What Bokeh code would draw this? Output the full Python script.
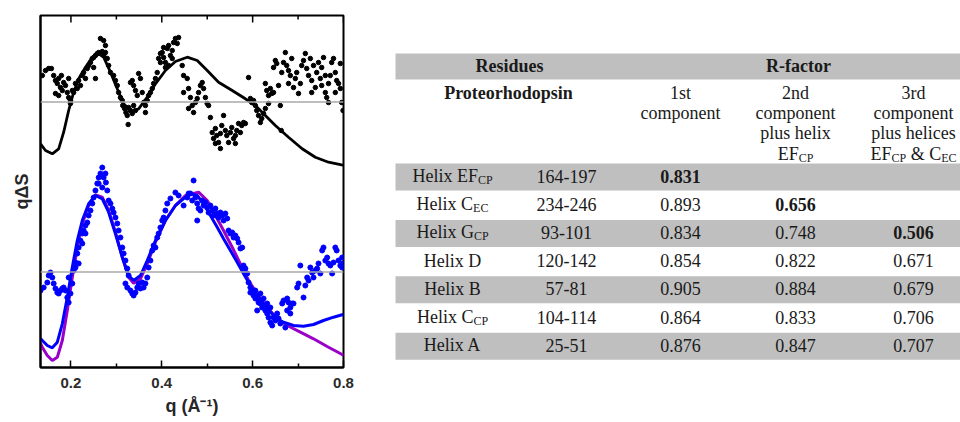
import re
from bokeh.plotting import figure
from bokeh.layouts import row
from bokeh.models import Range1d, FixedTicker, LinearAxis, Span, ColumnDataSource
from bokeh.core.properties import value
from bokeh.embed import file_html
from bokeh.resources import INLINE

# ---------------- plot data (q in 1/Angstrom, q*dS in arbitrary units, curves vertically offset) ----------
top_baseline = 265.5
bottom_baseline = 95.5

top_fit_q = [0.133, 0.144, 0.159, 0.173, 0.184, 0.195, 0.206, 0.217, 0.232, 0.247, 0.261, 0.272, 0.287,
             0.302, 0.316, 0.335, 0.349, 0.368, 0.386, 0.408, 0.430, 0.456, 0.478, 0.500, 0.525, 0.555,
             0.584, 0.606, 0.628, 0.650, 0.679, 0.709, 0.738, 0.767, 0.796, 0.800]
top_fit_y = [223.7, 217.0, 213.7, 218.7, 235.3, 257.0, 275.3, 288.7, 300.3, 310.3, 313.7, 310.3, 295.3,
             278.7, 263.7, 255.3, 258.7, 270.3, 283.7, 297.0, 306.0, 310.3, 307.0, 297.0, 285.3, 277.0,
             268.7, 262.0, 252.0, 242.0, 230.3, 218.7, 210.3, 205.3, 202.7, 202.4]

blue_fit_q = [0.133, 0.137, 0.148, 0.159, 0.170, 0.181, 0.192, 0.203, 0.214, 0.225, 0.239, 0.254, 0.269,
              0.283, 0.298, 0.313, 0.327, 0.338, 0.353, 0.368, 0.386, 0.408, 0.430, 0.452, 0.463, 0.478,
              0.492, 0.507, 0.522, 0.536, 0.551, 0.566, 0.580, 0.595, 0.610, 0.624, 0.639, 0.654, 0.668,
              0.690, 0.712, 0.734, 0.756, 0.778, 0.797, 0.800]
blue_fit_y = [29.0, 27.0, 22.0, 19.7, 25.3, 43.7, 70.3, 100.3, 127.0, 147.0, 163.7, 172.0, 168.7,
              155.3, 133.7, 110.3, 92.0, 87.0, 92.0, 107.0, 127.0, 147.0, 162.0, 170.3, 173.7, 172.0,
              163.7, 152.0, 140.3, 128.7, 117.0, 105.3, 93.7, 82.0, 72.0, 63.7, 55.3, 48.7, 45.3,
              42.0, 41.3, 43.0, 47.0, 50.3, 52.7, 53.0]

magenta_fit_q = [0.133, 0.137, 0.148, 0.159, 0.170, 0.181, 0.192, 0.203, 0.214, 0.225, 0.239, 0.254,
                 0.269, 0.283, 0.298, 0.313, 0.327, 0.338, 0.353, 0.368, 0.386, 0.408, 0.430, 0.452,
                 0.481, 0.500, 0.518, 0.536, 0.555, 0.573, 0.591, 0.610, 0.632, 0.654, 0.676, 0.705,
                 0.734, 0.764, 0.797, 0.800]
magenta_fit_y = [24.0, 20.3, 12.0, 7.0, 10.3, 27.0, 57.0, 90.3, 120.3, 143.7, 162.0, 172.7,
                 170.3, 157.0, 135.3, 110.3, 90.3, 84.3, 88.7, 103.7, 125.3, 147.0, 162.0, 172.0,
                 175.3, 167.0, 152.0, 137.0, 120.3, 103.7, 87.0, 73.7, 60.3, 48.7, 42.0, 35.3,
                 28.7, 21.0, 13.0, 12.0]

top_points = [
    (0.137, 292), (0.144, 297), (0.151, 299), (0.157, 299), (0.162, 292), (0.166, 287), (0.170, 284),
    (0.173, 289), (0.177, 280), (0.181, 277), (0.184, 285), (0.188, 282), (0.192, 275), (0.195, 270),
    (0.199, 267), (0.203, 277), (0.166, 274), (0.173, 272), (0.179, 292), (0.195, 289), (0.199, 264),
    (0.206, 275), (0.210, 284), (0.214, 279), (0.217, 287), (0.221, 282),
    (0.225, 292), (0.228, 295), (0.232, 289), (0.236, 299), (0.239, 302), (0.243, 305), (0.247, 309),
    (0.250, 310), (0.254, 312), (0.258, 314), (0.261, 315), (0.265, 314), (0.269, 316), (0.272, 312),
    (0.250, 300), (0.254, 289), (0.265, 329), (0.272, 327), (0.276, 322), (0.276, 315),
    (0.280, 309), (0.283, 302), (0.287, 295), (0.294, 292), (0.298, 287), (0.302, 282), (0.305, 275),
    (0.309, 270), (0.313, 267), (0.314, 262), (0.318, 259), (0.321, 255), (0.324, 252), (0.327, 260),
    (0.331, 257), (0.335, 254), (0.326, 243), (0.338, 262), (0.342, 257),
    (0.331, 285), (0.335, 287), (0.338, 282), (0.342, 277), (0.346, 272), (0.349, 294), (0.353, 289),
    (0.357, 275), (0.360, 265), (0.364, 262), (0.368, 267), (0.371, 272), (0.375, 275), (0.379, 279),
    (0.382, 284), (0.386, 289), (0.390, 295), (0.364, 255),
    (0.393, 309), (0.397, 314), (0.401, 315), (0.404, 310), (0.408, 305), (0.412, 319), (0.415, 322),
    (0.419, 312), (0.423, 309), (0.426, 325), (0.430, 329), (0.434, 324), (0.437, 330), (0.415, 302),
    (0.408, 300), (0.423, 317), (0.404, 320), (0.397, 305),
    (0.445, 302), (0.448, 292), (0.456, 289), (0.459, 279), (0.463, 270), (0.467, 262), (0.470, 255),
    (0.474, 265), (0.478, 269), (0.481, 275), (0.485, 282), (0.489, 285), (0.492, 279), (0.496, 270),
    (0.500, 264), (0.503, 262), (0.507, 250), (0.459, 259), (0.448, 275),
    (0.511, 235), (0.514, 229), (0.518, 239), (0.521, 232), (0.525, 225), (0.529, 234), (0.532, 242),
    (0.536, 252), (0.540, 237), (0.543, 232), (0.547, 225), (0.551, 235), (0.554, 240), (0.558, 229),
    (0.562, 224), (0.565, 237), (0.569, 244), (0.573, 235), (0.576, 242), (0.580, 245), (0.584, 244),
    (0.518, 224), (0.529, 219), (0.562, 232),
    (0.591, 290), (0.595, 269), (0.598, 265), (0.602, 267), (0.606, 262), (0.609, 257), (0.613, 252),
    (0.617, 245), (0.620, 249), (0.624, 254), (0.628, 259), (0.661, 262), (0.663, 237),
    (0.628, 284), (0.631, 277), (0.635, 272), (0.639, 279), (0.642, 274), (0.646, 300), (0.650, 307),
    (0.653, 304), (0.657, 282), (0.664, 295), (0.668, 305), (0.672, 315), (0.675, 302), (0.679, 297),
    (0.683, 292), (0.686, 309), (0.690, 280), (0.694, 289), (0.697, 295), (0.701, 274), (0.705, 284),
    (0.708, 302), (0.712, 307), (0.716, 314), (0.719, 299), (0.723, 292), (0.727, 309), (0.730, 287),
    (0.734, 302), (0.738, 280), (0.741, 295), (0.745, 305), (0.749, 289), (0.752, 300), (0.756, 310),
    (0.760, 275), (0.763, 270), (0.767, 265), (0.771, 292), (0.774, 305), (0.778, 309), (0.782, 295),
    (0.785, 287), (0.789, 284), (0.793, 279), (0.796, 265), (0.799, 257), (0.793, 304), (0.782, 275),
    (0.752, 282), (0.730, 275), (0.679, 284), (0.646, 275), (0.635, 264), (0.760, 292), (0.767, 284),
]

bottom_points = [
    (0.133, 77), (0.140, 80), (0.148, 85), (0.151, 92), (0.155, 95), (0.159, 90), (0.162, 84),
    (0.166, 79), (0.170, 75), (0.173, 74), (0.177, 77), (0.181, 79), (0.184, 80), (0.188, 77),
    (0.192, 70), (0.195, 65), (0.199, 74), (0.203, 84), (0.195, 90), (0.206, 97), (0.210, 105),
    (0.214, 114), (0.217, 120), (0.221, 127), (0.225, 134), (0.228, 137), (0.232, 142), (0.236, 145),
    (0.239, 152), (0.243, 157), (0.247, 164), (0.250, 170), (0.254, 177), (0.258, 184), (0.261, 190),
    (0.265, 194), (0.269, 200), (0.272, 190), (0.276, 194), (0.277, 185), (0.261, 184), (0.269, 180),
    (0.280, 177), (0.283, 167), (0.287, 164), (0.291, 159), (0.294, 155), (0.298, 150), (0.302, 144),
    (0.305, 137), (0.309, 130), (0.313, 120), (0.316, 114), (0.320, 107), (0.324, 99), (0.327, 92),
    (0.320, 84), (0.324, 80), (0.331, 77), (0.335, 74), (0.338, 72), (0.342, 75), (0.346, 80),
    (0.349, 84), (0.353, 79), (0.357, 85), (0.360, 80), (0.364, 84), (0.368, 90), (0.371, 100),
    (0.375, 107), (0.379, 117), (0.382, 122), (0.386, 120), (0.390, 130), (0.393, 134), (0.397, 140),
    (0.401, 147), (0.404, 150), (0.408, 157), (0.412, 164), (0.419, 169), (0.430, 175), (0.437, 172),
    (0.448, 162), (0.456, 170), (0.459, 174), (0.225, 124), (0.232, 134), (0.217, 104), (0.210, 100),
    (0.470, 187), (0.463, 174), (0.467, 167), (0.474, 170), (0.478, 164), (0.481, 159), (0.478, 147),
    (0.485, 157), (0.489, 167), (0.492, 162), (0.496, 165), (0.500, 160), (0.503, 155), (0.507, 162),
    (0.511, 157), (0.514, 152), (0.518, 159), (0.522, 154), (0.525, 150), (0.529, 155), (0.533, 152),
    (0.536, 147), (0.540, 154), (0.544, 149), (0.547, 137), (0.551, 134), (0.555, 135), (0.558, 130),
    (0.562, 132), (0.566, 129), (0.569, 125), (0.573, 119), (0.577, 120), (0.580, 102), (0.584, 99),
    (0.588, 94), (0.591, 85), (0.595, 80), (0.599, 77), (0.602, 72), (0.606, 69), (0.610, 70),
    (0.613, 65), (0.617, 64), (0.621, 60), (0.624, 69), (0.628, 57), (0.632, 54), (0.635, 50),
    (0.639, 45), (0.643, 42), (0.646, 50), (0.650, 47), (0.654, 54), (0.657, 49), (0.661, 44),
    (0.639, 60), (0.632, 64), (0.617, 74), (0.606, 77), (0.595, 75), (0.610, 57), (0.672, 40),
    (0.665, 64), (0.668, 67), (0.676, 69), (0.679, 65), (0.683, 60), (0.687, 64), (0.690, 64),
    (0.676, 57), (0.683, 54), (0.698, 80), (0.701, 84), (0.705, 102), (0.712, 70), (0.716, 82),
    (0.720, 90), (0.723, 87), (0.727, 100), (0.731, 95), (0.734, 90), (0.738, 97), (0.742, 99),
    (0.745, 104), (0.749, 94), (0.753, 117), (0.756, 120), (0.760, 107), (0.764, 110), (0.767, 104),
    (0.771, 102), (0.775, 94), (0.778, 105), (0.782, 120), (0.785, 117), (0.789, 107), (0.793, 102),
    (0.797, 100), (0.799, 104), (0.797, 110),
]

x_major_ticks = [0.2, 0.4, 0.6, 0.8]
x_minor_ticks = [0.3, 0.5, 0.7]

# ---------------- table data ----------------
group_headers = ["Residues", "R-factor"]
sub_header_left = "Proteorhodopsin"
component_headers = [
    ["1st", "component"],
    ["2nd", "component", "plus helix", "EF_{CP}"],
    ["3rd", "component", "plus helices", "EF_{CP} & C_{EC}"],
]
helix_names = ["Helix EF_{CP}", "Helix C_{EC}", "Helix G_{CP}", "Helix D", "Helix B", "Helix C_{CP}", "Helix A"]
residue_ranges = ["164-197", "234-246", "93-101", "120-142", "57-81", "104-114", "25-51"]
r_first = ["0.831", "0.893", "0.834", "0.854", "0.905", "0.864", "0.876"]
r_second = ["", "0.656", "0.748", "0.822", "0.884", "0.833", "0.847"]
r_third = ["", "", "0.506", "0.671", "0.679", "0.706", "0.707"]

# ---------------- left panel ----------------
Y_TOP = 352
p = figure(width=380, height=422, x_range=Range1d(0.133, 0.8), y_range=Range1d(0, Y_TOP),
           output_backend="svg", toolbar_location=None,
           x_axis_location=None, y_axis_location=None,
           min_border_left=40, min_border_right=37, min_border_top=15, min_border_bottom=55)
p.outline_line_color = "black"
p.outline_line_width = 2
p.background_fill_color = "white"
p.border_fill_color = "white"
p.xgrid.visible = False
p.ygrid.visible = False

ticker = FixedTicker(ticks=x_major_ticks, minor_ticks=x_minor_ticks)
bottom = LinearAxis(ticker=ticker, axis_line_width=2, axis_line_color="black",
                    major_tick_in=7, major_tick_out=0, minor_tick_in=4, minor_tick_out=0,
                    major_tick_line_width=1.5, minor_tick_line_width=1.5,
                    major_label_text_font="Liberation Sans", major_label_text_font_style="bold",
                    major_label_text_font_size="15px", major_label_text_color="#2b2b2b",
                    major_label_standoff=10,
                    axis_label="q (Å⁻¹)", axis_label_text_font="Liberation Sans",
                    axis_label_text_font_style="bold", axis_label_text_font_size="18px",
                    axis_label_text_color="#262626", axis_label_standoff=5)
p.add_layout(bottom, "below")

left_ax = LinearAxis(ticker=FixedTicker(ticks=[]), axis_line_width=2, axis_line_color="black",
                     major_tick_in=0, major_tick_out=0, minor_tick_in=0, minor_tick_out=0,
                     major_label_text_font_size="0px", major_label_standoff=0,
                     axis_label="qΔS", axis_label_text_font="Liberation Sans",
                     axis_label_text_font_style="bold", axis_label_text_font_size="18px",
                     axis_label_text_color="#262626", axis_label_standoff=9)
p.add_layout(left_ax, "left")

# inward ticks along the top frame edge (1 y-unit = 1 px here)
p.segment(x0=x_major_ticks, y0=[Y_TOP] * len(x_major_ticks), x1=x_major_ticks,
          y1=[Y_TOP - 7] * len(x_major_ticks), line_color="black", line_width=1.5)
p.segment(x0=x_minor_ticks, y0=[Y_TOP] * len(x_minor_ticks), x1=x_minor_ticks,
          y1=[Y_TOP - 4] * len(x_minor_ticks), line_color="black", line_width=1.5)

for b in (top_baseline, bottom_baseline):
    p.add_layout(Span(location=b, dimension="width", line_color="#a8a8a8", line_width=1.5))

p.line(top_fit_q, top_fit_y, line_color="black", line_width=2.8)
p.scatter([q for q, _ in top_points], [y for _, y in top_points], size=4.5,
          fill_color="black", line_color="black")

p.line(magenta_fit_q, magenta_fit_y, line_color="#9a00c8", line_width=3)
p.line(blue_fit_q, blue_fit_y, line_color="#0000ff", line_width=3)
p.scatter([q for q, _ in bottom_points], [y for _, y in bottom_points], size=5,
          fill_color="#0000ff", line_color="#0000ff")

# ---------------- right panel: table (frame aligned with the left frame: 15..367 px) ----------------
t = figure(width=580, height=422, x_range=Range1d(380, 960), y_range=Range1d(367, 15),
           output_backend="svg", toolbar_location=None,
           x_axis_location=None, y_axis_location=None,
           min_border_left=0, min_border_right=0, min_border_top=15, min_border_bottom=55)
t.outline_line_color = None
t.xgrid.visible = False
t.ygrid.visible = False

SERIF = value("Liberation Serif")
TXT = "#1a1a1a"
FS, SFS = 18.0, 12.0
TABLE_L, TABLE_R = 395, 960
col_x = [452, 566, 680, 795, 913]
row0, row_step, half_h = 176.5, 28.2, 13.5
row_c = [row0 + i * row_step for i in range(len(helix_names))]
head_c, head_half = 66, 13
line_c = [93, 113, 133, 154]
BASE = -1  # baseline offset from visual row centre
SUB_DROP = 4

W = {' ': 250, '\u00a0': 250, '&': 778, '-': 333, '.': 250, 'A': 722, 'B': 667, 'C': 667, 'D': 722,
     'E': 611, 'F': 556, 'G': 722, 'H': 722, 'P': 556, 'l': 278, 'i': 278, 'e': 444, 'x': 500}


def width(s, size):
    return sum(W.get(c, 500) for c in s) * size / 1000.0


def segments(s):
    out = []
    for part in re.split(r'(_\{[^}]*\})', s):
        if not part:
            continue
        if part.startswith("_{"):
            out.append((part[2:-1], True))
        else:
            out.append((part.replace(" ", "\u00a0"), False))
    return out


# bands
band_top = [head_c - head_half] + [row_c[i] - half_h for i in range(0, len(row_c), 2)]
band_bot = [head_c + head_half] + [row_c[i] + half_h for i in range(0, len(row_c), 2)]
t.quad(left=[TABLE_L] * len(band_top), right=[TABLE_R] * len(band_top),
       top=band_top, bottom=band_bot, fill_color="#bfbfbf", line_color=None)

centre = dict(x=[], y=[], t=[])
centre_b = dict(x=[], y=[], t=[])
seg_main = dict(x=[], y=[], t=[])
seg_sub = dict(x=[], y=[], t=[])


def put(text, cx, cy, bold=False):
    segs = segments(text)
    if len(segs) == 1 and not segs[0][1]:
        d = centre_b if bold else centre
        d["x"].append(cx)
        d["y"].append(cy + BASE)
        d["t"].append(text)
        return
    total = sum(width(s, SFS if sub else FS) for s, sub in segs)
    x = cx - total / 2.0
    for s, sub in segs:
        d = seg_sub if sub else seg_main
        d["x"].append(x)
        d["y"].append(cy + BASE + (SUB_DROP if sub else 0))
        d["t"].append(s)
        x += width(s, SFS if sub else FS)


put(group_headers[0], 509, head_c, bold=True)
put(group_headers[1], 798, head_c, bold=True)
put(sub_header_left, 508, line_c[0], bold=True)
for ci, lines in enumerate(component_headers):
    for li, txt in enumerate(lines):
        put(txt, col_x[2 + ci], line_c[li])

r_cols = [r_first, r_second, r_third]
for i in range(len(helix_names)):
    put(helix_names[i], col_x[0], row_c[i])
    put(residue_ranges[i], col_x[1], row_c[i])
    for ci, col in enumerate(r_cols):
        if col[i]:
            first = next(k for k, v in enumerate(col) if v)
            put(col[i], col_x[2 + ci], row_c[i], bold=(i == first))

t.text(x="x", y="y", text="t", source=ColumnDataSource(centre), text_font=SERIF,
       text_font_size=value("18px"), text_align="center", text_baseline="alphabetic", text_color=TXT)
t.text(x="x", y="y", text="t", source=ColumnDataSource(centre_b), text_font=SERIF,
       text_font_size=value("18px"), text_font_style="bold", text_align="center",
       text_baseline="alphabetic", text_color=TXT)
t.text(x="x", y="y", text="t", source=ColumnDataSource(seg_main), text_font=SERIF,
       text_font_size=value("18px"), text_align="left", text_baseline="alphabetic", text_color=TXT)
t.text(x="x", y="y", text="t", source=ColumnDataSource(seg_sub), text_font=SERIF,
       text_font_size=value("12px"), text_align="left", text_baseline="alphabetic", text_color=TXT)

layout = row(p, t)
open("out.html", "w").write(file_html(layout, INLINE))
